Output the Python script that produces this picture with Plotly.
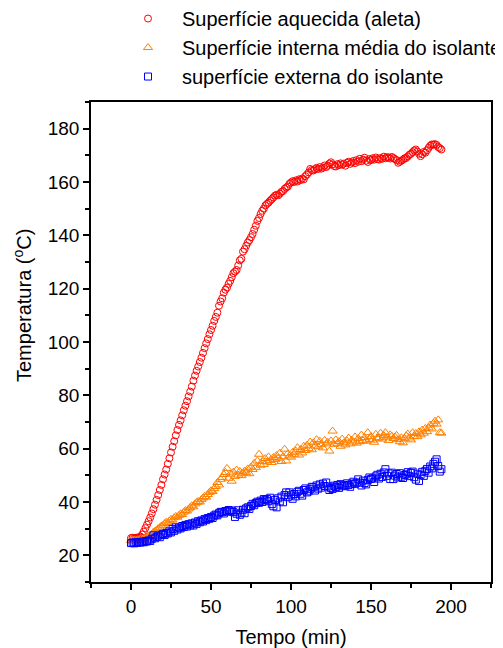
import plotly.graph_objects as go

tempo = list(range(0, 195))

aleta = [
    26.5, 26.6, 26.4, 26.5, 26.7, 26.6, 27.0, 27.8, 28.9, 30.2,
    31.5, 32.8, 34.2, 35.7, 37.3, 39.0, 40.8, 42.6, 44.5, 46.4,
    48.5, 50.3, 52.2, 54.3, 56.4, 58.6, 60.7, 62.8, 65.0, 67.0,
    68.9, 70.6, 72.5, 74.4, 76.1, 77.8, 79.6, 81.4, 83.3, 85.5,
    87.4, 89.2, 90.8, 92.5, 94.1, 95.9, 97.7, 99.5, 101.1, 102.9,
    104.5, 106.1, 107.9, 109.4, 111.0, 113.6, 115.2, 116.4, 118.5, 119.6,
    120.4, 121.8, 122.9, 124.3, 125.8, 126.4, 127.0, 128.7, 130.6, 131.2,
    133.9, 134.8, 136.1, 137.3, 138.2, 139.3, 140.5, 142.1, 143.6, 145.4,
    146.5, 148.0, 149.2, 150.0, 151.2, 151.8, 152.3, 153.0, 153.6, 154.2,
    154.9, 155.2, 155.0, 155.6, 156.3, 156.6, 157.4, 157.9, 158.3, 159.3,
    159.8, 160.3, 160.0, 160.6, 160.2, 161.0, 160.7, 161.3, 161.0, 162.2,
    162.8, 163.6, 164.9, 164.5, 164.3, 164.8, 165.3, 164.9, 165.6, 165.0,
    165.4, 166.2, 165.6, 166.1, 166.9, 167.4, 166.6, 166.0, 165.8, 166.7,
    166.3, 167.0, 166.5, 166.9, 166.1, 167.2, 167.6, 166.8, 167.3, 167.9,
    167.1, 168.2, 167.6, 168.7, 167.8, 168.4, 169.1, 168.0, 167.5, 168.6,
    168.2, 168.9, 168.4, 169.2, 168.6, 168.4, 169.0, 168.7, 169.5, 168.9,
    169.3, 169.2, 168.8, 169.4, 169.0, 168.6, 168.2, 167.2, 167.6, 168.0,
    168.4, 168.9, 169.0, 169.6, 170.2, 170.6, 171.2, 171.8, 172.2, 171.4,
    170.6, 169.7, 170.4, 171.3, 171.0, 171.9, 172.8, 173.6, 174.1, 174.0,
    174.2, 173.9, 173.1, 172.7, 172.2,
]

interna = [
    25.6, 25.4, 25.7, 25.5, 25.8, 25.6, 26.0, 25.7, 26.2, 26.5,
    26.8, 27.1, 27.6, 28.0, 28.7, 29.0, 29.5, 30.0, 30.4, 31.0,
    31.3, 31.9, 32.4, 32.2, 32.9, 33.5, 33.2, 34.1, 34.6, 34.3,
    35.0, 35.6, 35.3, 36.2, 36.8, 36.6, 37.4, 37.9, 38.6, 38.2,
    39.3, 39.8, 40.2, 40.0, 40.9, 41.5, 42.1, 41.8, 42.8, 43.6,
    44.2, 43.9, 45.0, 45.8, 47.3, 46.4, 48.5, 49.2, 50.3, 51.1,
    52.6, 48.9, 50.5, 47.8, 51.2, 49.6, 52.0, 50.1, 51.5, 49.9,
    50.8, 51.6, 51.1, 52.4, 50.6, 53.1, 52.2, 54.5, 53.0, 55.4,
    57.9, 53.8, 55.2, 54.1, 56.3, 55.0, 56.9, 55.6, 54.8, 56.7,
    55.9, 57.5, 56.4, 58.3, 55.2, 57.0, 59.8, 55.4, 58.1, 57.3,
    56.8, 58.6, 57.9, 59.1, 60.4, 57.6, 59.7, 58.4, 60.9, 59.3,
    61.3, 60.1, 62.5, 59.6, 62.2, 61.0, 63.4, 60.7, 62.8, 61.5,
    60.3, 63.1, 61.8, 62.4, 59.1, 62.9, 66.6, 61.6, 63.3, 62.0,
    62.7, 60.9, 63.6, 62.2, 61.4, 62.9, 64.0, 61.8, 63.2, 62.5,
    64.4, 62.1, 63.8, 62.6, 65.1, 63.0, 64.2, 62.8, 66.0, 63.5,
    64.6, 63.2, 62.4, 65.4, 63.9, 64.1, 65.8, 63.6, 64.9, 66.0,
    64.3, 63.1, 65.2, 64.7, 63.8, 64.4, 65.0, 63.4, 62.6, 64.1,
    62.2, 63.7, 64.8, 65.5, 64.0, 63.3, 66.0, 64.6, 65.7, 64.5,
    66.3, 65.2, 67.0, 65.8, 67.6, 66.4, 67.8, 68.9, 67.4, 69.5,
    70.3, 69.2, 70.8, 66.0, 65.8,
]

externa = [
    24.6, 24.8, 24.5, 24.9, 24.7, 25.0, 24.8, 25.1, 24.9, 25.3,
    25.2, 25.6, 25.4, 26.2, 27.5, 26.4, 26.9, 27.4, 26.8, 27.7,
    28.0, 27.6, 28.4, 28.2, 29.0, 28.6, 29.9, 29.2, 30.5, 29.7,
    30.4, 30.1, 31.0, 30.6, 31.4, 30.8, 31.7, 31.2, 32.0, 31.2,
    32.3, 31.8, 32.8, 32.4, 33.1, 32.7, 33.6, 33.2, 34.0, 33.7,
    34.4, 34.0, 34.9, 35.3, 35.0, 35.8, 36.3, 36.2, 35.7, 36.6,
    36.4, 37.0, 36.5, 36.8, 36.2, 34.4, 35.6, 36.9, 35.2, 36.0,
    37.1, 35.8, 37.6, 38.0, 37.4, 38.5, 39.3, 38.8, 39.6, 40.1,
    39.7, 40.5, 40.0, 41.1, 40.7, 41.1, 40.3, 41.6, 39.2, 38.4,
    40.8, 38.0, 41.4, 40.2, 42.0, 39.9, 42.6, 43.6, 41.8, 43.6,
    42.5, 41.2, 43.0, 42.1, 43.8, 44.2, 43.1, 42.4, 44.5, 45.1,
    43.6, 44.0, 44.8, 45.7, 45.5, 44.3, 46.2, 45.0, 46.6, 45.4,
    46.9, 46.0, 47.3, 45.8, 44.5, 45.2, 44.9, 46.1, 45.6, 46.4,
    45.3, 46.7, 45.9, 46.3, 46.1, 47.0, 46.4, 45.7, 46.9, 47.6,
    46.8, 47.2, 48.5, 47.3, 46.2, 48.0, 47.1, 46.6, 48.3, 49.2,
    48.6, 48.9, 47.5, 49.6, 50.2, 48.8, 50.6, 49.4, 51.1, 52.3,
    49.8, 50.7, 48.6, 51.0, 48.6, 49.9, 50.5, 49.2, 50.8, 49.5,
    49.0, 50.1, 50.4, 51.2, 49.7, 50.9, 51.4, 49.3, 48.4, 50.6,
    47.9, 50.2, 51.3, 49.8, 51.7, 52.4, 51.0, 53.3, 52.6, 54.3,
    55.1, 56.0, 53.5, 51.4, 52.3,
]

nomes = [
    "Superfície aquecida (aleta)",
    "Superfície interna média do isolante",
    "superfície externa do isolante",
]

FONT = "Liberation Sans, Arial, sans-serif"

fig = go.Figure()
series = [
    (aleta, nomes[0], "circle-open", "#FF0000", 7),
    (interna, nomes[1], "triangle-up-open", "#FF8000", 8),
    (externa, nomes[2], "square-open", "#0000FF", 7),
]
for i, (vals, nome, sym, col, sz) in enumerate(series):
    fig.add_trace(go.Scatter(
        x=tempo, y=vals, mode="markers", name=nome,
        legendgroup=f"g{i}",
        marker=dict(symbol=sym, color=col, size=sz, line=dict(width=1, color=col)),
    ))

axis_common = dict(
    showline=True, linecolor="black", linewidth=1.5, mirror=True,
    ticks="outside", tickcolor="black", tickwidth=1.5, ticklen=6,
    showgrid=False, zeroline=False,
    tickfont=dict(family=FONT, size=19, color="black"),
)

fig.update_xaxes(
    range=[-25, 225], tick0=0, dtick=50,
    minor=dict(dtick=25, ticks="outside", ticklen=4, tickwidth=1.5, tickcolor="black"),
    title=dict(text="Tempo (min)", font=dict(family=FONT, size=20, color="black"), standoff=14),
    **axis_common,
)
fig.update_yaxes(
    range=[10, 190], tick0=0, dtick=20,
    minor=dict(dtick=10, ticks="outside", ticklen=4, tickwidth=1.5, tickcolor="black"),
    **axis_common,
)

# y-axis title (placed higher than centre, as in the reference)
fig.add_annotation(
    text="Temperatura (<sup>o</sup>C)", textangle=-90,
    xref="paper", yref="paper", x=-0.1725, y=0.575,
    xanchor="center", yanchor="middle", showarrow=False,
    font=dict(family=FONT, size=20, color="black"),
)

# the page body adds an 8px offset, so the figure is 8px smaller than the window
fig.update_layout(
    width=495, height=640,
    margin=dict(l=83, r=12, t=94, b=66, autoexpand=False),
    paper_bgcolor="white", plot_bgcolor="white",
    showlegend=True,
    legend=dict(
        x=0.0575, y=1.2145, xanchor="left", yanchor="top",
        font=dict(family=FONT, size=20, color="black"),
        bgcolor="rgba(0,0,0,0)", tracegroupgap=0, itemwidth=58,
    ),
)

fig.write_html("out.html")
